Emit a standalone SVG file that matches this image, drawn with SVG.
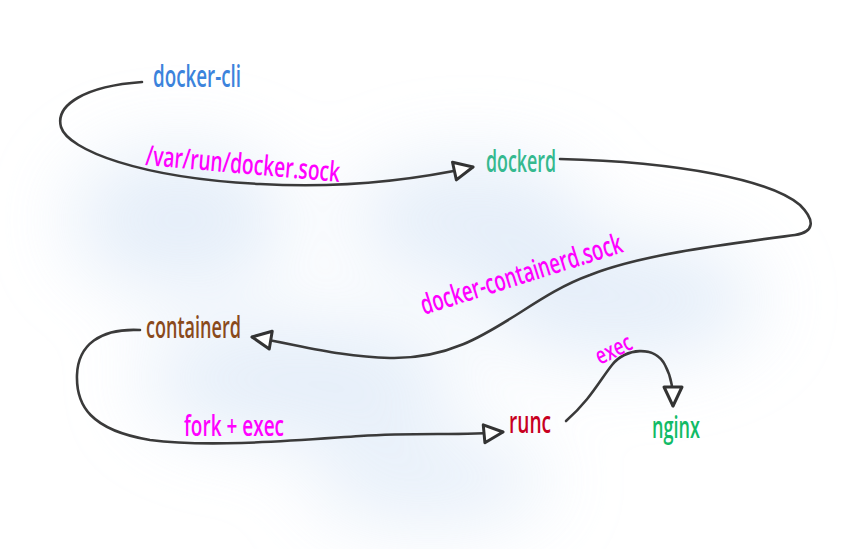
<svg xmlns="http://www.w3.org/2000/svg" width="860" height="549" viewBox="0 0 860 549">
<defs>
<filter id="blur" x="-50%" y="-50%" width="200%" height="200%"><feGaussianBlur stdDeviation="40"/></filter>
<marker id="arr" viewBox="0 0 28 28" refX="24" refY="14" markerWidth="28" markerHeight="28" markerUnits="userSpaceOnUse" orient="auto">
<path d="M5,5 L24,14 L5,23 Z" fill="#ffffff" stroke="#333333" stroke-width="3" stroke-linejoin="round"/>
</marker>
<style>
.edge{fill:none;stroke:#3a3a3a;stroke-width:2.6;stroke-linecap:round;marker-end:url(#arr)}
.lbl{font-family:"Open Sans","Liberation Sans",sans-serif;font-size:30px;font-weight:600}
.el{font-family:"Open Sans","Liberation Sans",sans-serif;font-size:28px;font-weight:600;fill:#ff00ff}
</style>
</defs>
<rect width="860" height="549" fill="#ffffff"/>
<g filter="url(#blur)" fill="#dce8f7" opacity="0.75">
<ellipse cx="180" cy="220" rx="110" ry="70"/>
<ellipse cx="470" cy="220" rx="120" ry="60"/>
<ellipse cx="300" cy="380" rx="160" ry="60"/>
<ellipse cx="620" cy="300" rx="140" ry="60"/>
<ellipse cx="430" cy="480" rx="120" ry="40"/>
</g>
<g id="connectors">
<path class="edge" d="M142,82 C 85,86 55,105 61,127 C 68,150 140,178 260,184 C 330,188 400,183 473,167"/>
<path class="edge" d="M560,159 C 680,162 770,180 800,205 C 815,220 815,232 795,235 C 720,245 640,255 590,275 C 520,300 480,360 390,358 C 340,357 300,345 252,337"/>
<path class="edge" d="M140,330 C 100,328 78,345 77,375 C 76,405 90,430 150,440 C 210,448 300,440 360,436 C 420,432 460,436 503,432"/>
<path class="edge" d="M566,421 C 590,400 600,380 612,365 C 625,348 655,345 665,365 C 672,378 673,390 673,406"/>
</g>
<g id="edge-labels">
<text class="el" transform="translate(145,165) rotate(5)" textLength="195" lengthAdjust="spacingAndGlyphs">/var/run/docker.sock</text>
<text class="el" transform="translate(424,315) rotate(-17.5)" textLength="210" lengthAdjust="spacingAndGlyphs">docker-containerd.sock</text>
<text class="el" x="184" y="436" textLength="100" lengthAdjust="spacingAndGlyphs">fork + exec</text>
<text class="el" transform="translate(600,365) rotate(-26)" textLength="38" lengthAdjust="spacingAndGlyphs" style="font-size:24px">exec</text>
</g>
<g id="docker-cli"><text class="lbl" x="153" y="87" fill="#3c83dc" textLength="88" lengthAdjust="spacingAndGlyphs">docker-cli</text></g>
<g id="dockerd"><text class="lbl" x="486" y="172" fill="#35b98f" textLength="70" lengthAdjust="spacingAndGlyphs">dockerd</text></g>
<g id="containerd"><text class="lbl" x="146" y="338" fill="#8a4a1c" textLength="95" lengthAdjust="spacingAndGlyphs">containerd</text></g>
<g id="runc"><text class="lbl" x="509" y="433" fill="#c8001f" textLength="42" lengthAdjust="spacingAndGlyphs">runc</text></g>
<g id="nginx"><text class="lbl" x="652" y="438" fill="#12bb66" textLength="48" lengthAdjust="spacingAndGlyphs">nginx</text></g>
</svg>
